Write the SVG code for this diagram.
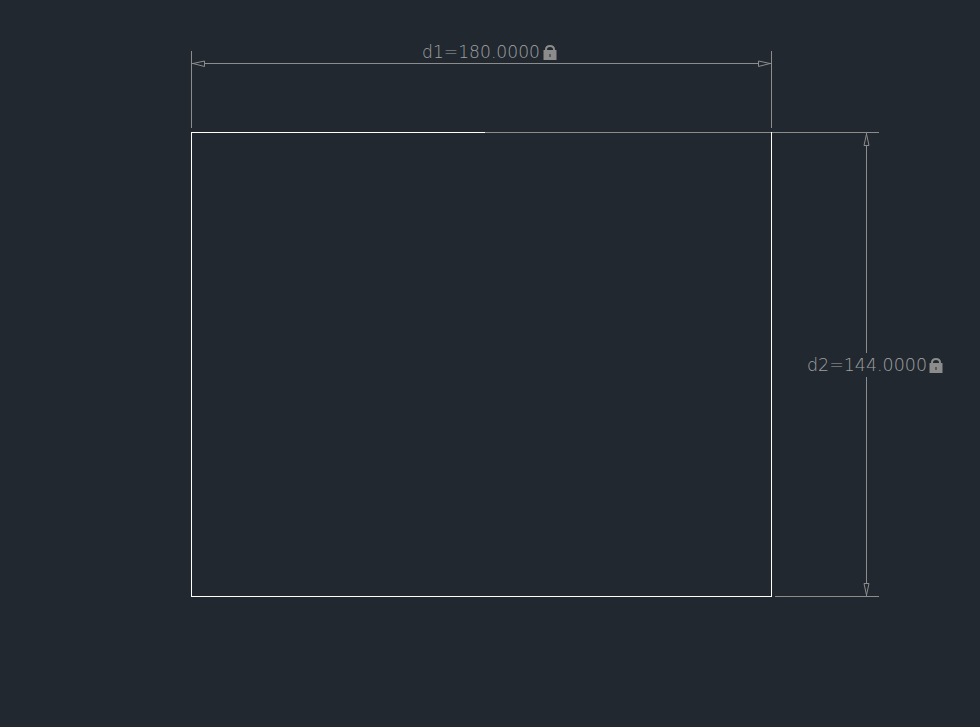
<svg xmlns="http://www.w3.org/2000/svg" width="980" height="727" viewBox="0 0 980 727">
<style>
.dim{fill:none;stroke:#8c8c8c;stroke-width:1;shape-rendering:crispEdges}
.arrow{fill:#212830;stroke:#8c8c8c;stroke-width:1}
.edge{fill:none;stroke:#ffffff;stroke-width:1;shape-rendering:crispEdges}
.label{font-family:"DejaVu Sans","Liberation Sans",sans-serif;font-weight:200;font-size:17.5px;fill:#a0a0a0;text-anchor:start}
.lockbody{fill:#8c8c8c}
.lockkey{fill:#212830}
.shackle{fill:none;stroke:#8c8c8c;stroke-width:2}
</style>
<defs>
<g id="lock">
<path class="shackle" d="M2.5 6V4.5Q2.5 1 6.5 1T10.5 4.5V6"/>
<rect class="lockbody" x="0" y="5" width="13" height="10"/>
<rect class="lockkey" x="6" y="9" width="1" height="3"/>
</g>
</defs>
<rect width="980" height="727" fill="#212830"/>
<g id="connectors">
<path class="dim" d="M191.5 51V128M771.5 51V128M191 63.5H772"/>
<path class="arrow" d="M193 63.5L204.5 61V66.5ZM770 63.5L758.5 61V66.5Z"/>
<path class="dim" d="M485 132.5H879M775 596.5H879M866.5 133V353M866.5 377V596"/>
<path class="arrow" d="M866.5 134L864 145.5H869ZM866.5 595L864 583.5H869Z"/>
</g>
<g id="rectangle">
<path class="edge" d="M191.5 596.5V132.5H485M191 596.5H771.5V132"/>
</g>
<g id="dimension-d1">
<text class="label" x="422" y="58" textLength="118" lengthAdjust="spacingAndGlyphs">d1=180.0000</text>
<use href="#lock" x="543.5" y="45"/>
</g>
<g id="dimension-d2">
<text class="label" x="807" y="371" textLength="120" lengthAdjust="spacingAndGlyphs">d2=144.0000</text>
<use href="#lock" x="929.5" y="358"/>
</g>
</svg>
